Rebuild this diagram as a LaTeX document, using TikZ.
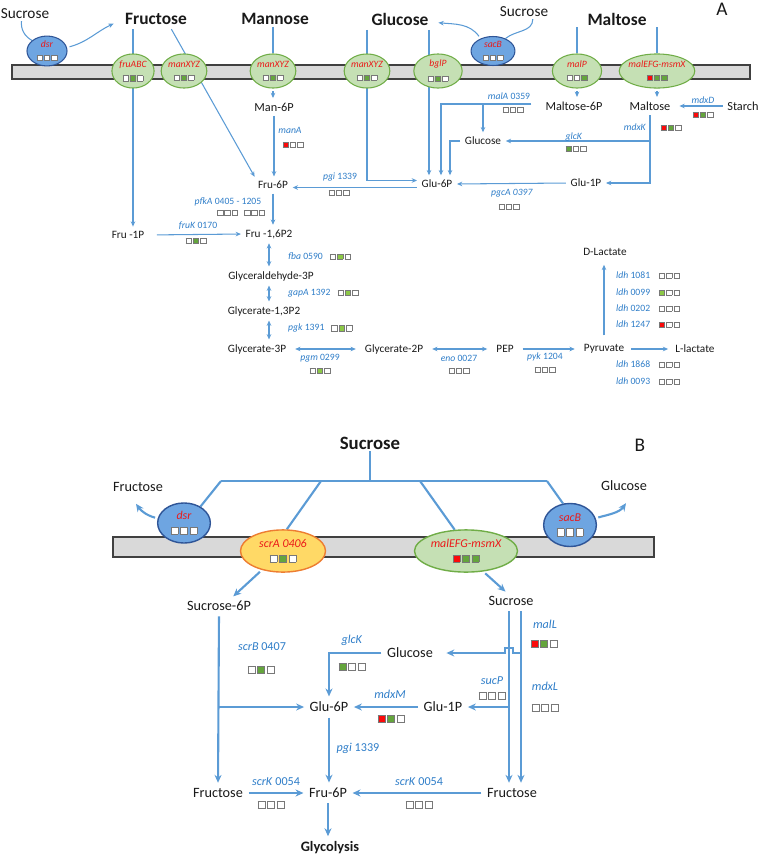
\documentclass[tikz,border=0pt]{standalone}
\usepackage{fontspec}
\setmainfont{Carlito}
\usetikzlibrary{arrows.meta,shapes.geometric,calc}
\pgfdeclarelayer{bg}
\pgfsetlayers{bg,main}
\definecolor{lineblue}{RGB}{91,155,213}
\definecolor{genblue}{RGB}{46,125,200}
\definecolor{enzred}{RGB}{235,25,25}
\definecolor{txt}{RGB}{25,25,25}
\definecolor{membfill}{RGB}{217,217,217}
\definecolor{membline}{RGB}{64,64,64}
\definecolor{trfill}{RGB}{197,224,180}
\definecolor{trline}{RGB}{112,173,71}
\definecolor{blfill}{RGB}{110,165,225}
\definecolor{blline}{RGB}{47,85,151}
\definecolor{yefill}{RGB}{255,217,102}
\definecolor{yeline}{RGB}{237,125,49}
\definecolor{gdk}{RGB}{100,165,60}
\definecolor{glt}{RGB}{140,200,70}
\definecolor{rd}{RGB}{250,10,10}
\definecolor{sqgray}{RGB}{120,120,120}
\setlength{\fboxsep}{0pt}
\setlength{\fboxrule}{0.35pt}
\newcommand{\sq}[2]{\fcolorbox{sqgray}{#2}{\rule{0pt}{#1}\hspace*{#1}}}
\newcommand{\tri}[3]{\sq{2.8pt}{#1}\hspace{0.7pt}\sq{2.8pt}{#2}\hspace{0.7pt}\sq{2.8pt}{#3}}
\newcommand{\triB}[3]{\sq{3.8pt}{#1}\hspace{0.9pt}\sq{3.8pt}{#2}\hspace{0.9pt}\sq{3.8pt}{#3}}
\newcommand{\inel}[2]{\makebox[0pt]{\shortstack{#1\\[1pt]#2}}}
\tikzset{
  wire/.style={draw=lineblue, line width=0.6pt},
  flow/.style={wire, shorten >=1.5pt, shorten <=1.5pt, -{Stealth[length=3pt,width=2.6pt]}},
  dflow/.style={wire, shorten >=1.5pt, shorten <=1.5pt, {Stealth[length=3pt,width=2.6pt]}-{Stealth[length=3pt,width=2.6pt]}},
  wireB/.style={draw=lineblue, line width=1.2pt},
  flowB/.style={wireB, shorten >=1.5pt, shorten <=1.5pt, -{Stealth[length=4.5pt,width=4pt]}},
  memb/.style={draw=membline, fill=membfill, line width=0.6pt},
  head/.style={font=\fontsize{9.9}{11}\selectfont\bfseries, text=txt, inner sep=1pt},
  headB/.style={font=\fontsize{10.7}{12}\selectfont\bfseries, text=txt, inner sep=1pt},
  tag/.style={font=\fontsize{11}{12}\selectfont, text=txt, inner sep=0pt},
  sugar/.style={font=\fontsize{8.7}{10}\selectfont, text=txt, inner sep=1pt},
  metu/.style={font=\fontsize{7}{8}\selectfont, text=txt, inner sep=1pt},
  met/.style={font=\fontsize{6.4}{7}\selectfont, text=txt, inner sep=1pt},
  metB/.style={font=\fontsize{8.1}{9}\selectfont, text=txt, inner sep=1.5pt},
  gene/.style={font=\fontsize{5.5}{6}\selectfont, text=genblue, inner sep=0.5pt},
  geneB/.style={font=\fontsize{6.9}{8}\selectfont, text=genblue, inner sep=0.5pt},
  trip/.style={inner sep=0pt},
  trA/.style={ellipse, draw=trline, fill=trfill, line width=0.6pt, inner sep=0pt,
    minimum width=26pt, minimum height=19.4pt, text=enzred,
    font=\fontsize{5.5}{6}\selectfont\itshape},
  blA/.style={trA, draw=blline, fill=blfill},
  trB/.style={trA, minimum height=24pt, line width=0.8pt, font=\fontsize{6.8}{8}\selectfont\itshape},
  blB/.style={trB, draw=blline, fill=blfill, minimum width=30pt, minimum height=22.8pt},
  yeB/.style={trB, draw=yeline, fill=yefill, minimum width=48.4pt}
}
\begin{document}
\begin{tikzpicture}[x=0.02cm, y=-0.02cm]
\useasboundingbox (0,0) rectangle (758,856);

% panel A
\node[sugar] (sucA) at (25,14) {Sucrose};
\node[head] (fru) at (156,19) {Fructose};
\node[head] (man) at (275,19) {Mannose};
\node[head] (glc) at (400,19) {Glucose};
\node[sugar] (sucS) at (524,12) {Sucrose};
\node[head] (mal) at (617,19) {Maltose};
\node[tag] (labA) at (722,9) {A};

\node[blA, minimum width=22.8pt, minimum height=17pt] (dsrA) at (47,51) {\inel{dsr}{\tri{white}{white}{white}}};
\node[trA, minimum width=24pt] (fruABC) at (133,71) {\inel{fruABC}{\tri{white}{gdk}{white}}};
\node[trA] (manXYZa) at (184,71) {\inel{manXYZ}{\tri{white}{gdk}{white}}};
\node[trA] (manXYZb) at (273,71) {\inel{manXYZ}{\tri{white}{gdk}{white}}};
\node[trA] (manXYZc) at (367,71) {\inel{manXYZ}{\tri{white}{gdk}{white}}};
\node[trA, minimum width=27.5pt] (bglP) at (438,71) {\inel{bglP}{\tri{white}{gdk}{white}}};
\node[blA, minimum width=25pt, minimum height=16.5pt] (sacA) at (493,51) {\inel{sacB}{\tri{white}{white}{white}}};
\node[trA, minimum width=28pt] (malP) at (577,71) {\inel{malP}{\tri{white}{white}{gdk}}};
\node[trA, minimum width=43pt] (malEFG) at (657,71) {\inel{malEFG-msmX}{\tri{rd}{gdk}{gdk}}};

\node[metu] (man6P) at (274,107) {Man-6P};
\node[metu] (mal6P) at (574,106) {Maltose-6P};
\node[metu] (maltA) at (650,106) {Maltose};
\node[metu] (starch) at (743,106) {Starch};
\node[met] (glcA) at (483,141) {Glucose};
\node[met] (glu6P) at (437,184) {Glu-6P};
\node[met] (glu1P) at (586,183) {Glu-1P};
\node[met] (fru6P) at (273,185) {Fru-6P};
\node[met] (fruIP) at (128,235) {Fru -1P};
\node[met] (fru16) at (269,234) {Fru -1,6P2};
\node[met] (gap) at (271,276) {Glyceraldehyde-3P};
\node[met] (bpg) at (264,311) {Glycerate-1,3P2};
\node[met] (pg3) at (257,349) {Glycerate-3P};
\node[met] (pg2) at (394,349) {Glycerate-2P};
\node[met] (pep) at (505,349) {PEP};
\node[met] (pyr) at (604,349) {Pyruvate};
\node[met] (llac) at (695,349) {L-lactate};
\node[met] (dlac) at (605,252) {D-Lactate};

\node[gene] (manA) at (290,130) {\textit{manA}};
\node[trip] (manAb) at (293,145) {\tri{rd}{white}{white}};
\node[gene] (malA) at (509,96) {\textit{malA} 0359};
\node[trip] (malAb) at (513,110) {\tri{white}{white}{white}};
\node[gene] (mdxD) at (703,100) {\textit{mdxD}};
\node[trip] (mdxDb) at (703,115) {\tri{rd}{gdk}{white}};
\node[gene] (mdxK) at (635,127) {\textit{mdxK}};
\node[trip] (mdxKb) at (671,128) {\tri{rd}{gdk}{white}};
\node[gene] (glcK) at (574,137) {\textit{glcK}};
\node[trip] (glcKb) at (576,149) {\tri{gdk}{white}{white}};
\node[gene] (pgi) at (340,177) {\textit{pgi} 1339};
\node[trip] (pgib) at (339,193) {\tri{white}{white}{white}};
\node[gene] (pgcA) at (512,193) {\textit{pgcA 0397}};
\node[trip] (pgcAb) at (509,207) {\tri{white}{white}{white}};
\node[gene] (pfkA) at (228,202) {\textit{pfkA} 0405 - 1205};
\node[trip] (pfkAb) at (241,213) {\tri{white}{white}{white}\hspace{3.4pt}\tri{white}{white}{white}};
\node[gene] (fruK) at (198,226) {\textit{fruK} 0170};
\node[trip] (fruKb) at (196,241) {\tri{white}{gdk}{white}};
\node[gene, anchor=west] (fba) at (287,256) {\textit{fba} 0590\hspace{4pt}\tri{white}{glt}{white}};
\node[gene, anchor=west] (gapA) at (287,293) {\textit{gapA} 1392\hspace{4pt}\tri{white}{glt}{white}};
\node[gene, anchor=west] (pgk) at (287,328) {\textit{pgk} 1391\hspace{4pt}\tri{white}{glt}{white}};
\node[gene] (pgm) at (320,358) {\textit{pgm} 0299};
\node[trip] (pgmb) at (320,371) {\tri{white}{glt}{white}};
\node[gene] (eno) at (459,358) {\textit{eno} 0027};
\node[trip] (enob) at (459,371) {\tri{white}{white}{white}};
\node[gene] (pyk) at (545,357) {\textit{pyk} 1204};
\node[trip] (pykb) at (545,370) {\tri{white}{white}{white}};
\node[gene, anchor=west] (ldha) at (615,275) {\textit{ldh} 1081\hspace{5pt}\tri{white}{white}{white}};
\node[gene, anchor=west] (ldhb) at (615,292) {\textit{ldh} 0099\hspace{5pt}\tri{glt}{white}{white}};
\node[gene, anchor=west] (ldhc) at (615,308) {\textit{ldh} 0202\hspace{5pt}\tri{white}{white}{white}};
\node[gene, anchor=west] (ldhd) at (615,324) {\textit{ldh} 1247\hspace{5pt}\tri{rd}{white}{white}};
\node[gene, anchor=west] (ldhe) at (615,364) {\textit{ldh} 1868\hspace{5pt}\tri{white}{white}{white}};
\node[gene, anchor=west] (ldhf) at (615,381) {\textit{ldh} 0093\hspace{5pt}\tri{white}{white}{white}};

% panel B
\node[headB] (sucr) at (370,443) {Sucrose};
\node[tag] (labB) at (640,445) {B};
\node[metB] (fruB) at (138,487) {Fructose};
\node[metB] (glcBt) at (624,486) {Glucose};
\node[blB] (dsrB) at (184,523) {\inel{dsr}{\triB{white}{white}{white}}};
\node[blB, minimum height=24.5pt] (sacBB) at (570,525) {\inel{sacB}{\triB{white}{white}{white}}};
\node[yeB] (scrA) at (283,551) {\inel{scrA 0406}{\triB{white}{gdk}{white}}};
\node[trB, minimum width=58.6pt] (malB) at (466,551) {\inel{malEFG-msmX}{\triB{rd}{gdk}{gdk}}};

\node[metB] (suc6P) at (219,606) {Sucrose-6P};
\node[metB] (sucM) at (511,601) {Sucrose};
\node[metB] (glcB) at (410,653) {Glucose};
\node[metB] (glu6PB) at (329,707) {Glu-6P};
\node[metB] (glu1PB) at (443,707) {Glu-1P};
\node[metB] (fruBL) at (218,793) {Fructose};
\node[metB] (fru6PB) at (328,793) {Fru-6P};
\node[metB] (fruBR) at (512,793) {Fructose};
\node[metB, font=\fontsize{8.2}{9}\selectfont\bfseries] (glyc) at (330,848) {Glycolysis};

\node[geneB] (scrB) at (262,647) {\textit{scrB} 0407};
\node[trip] (scrBb) at (261,670) {\triB{white}{gdk}{white}};
\node[geneB] (glcKB) at (352,640) {\textit{glcK}};
\node[trip] (glcKBb) at (352,667) {\triB{gdk}{white}{white}};
\node[geneB] (malL) at (545,624) {\textit{malL}};
\node[trip] (malLb) at (544,644) {\triB{rd}{gdk}{white}};
\node[geneB] (sucP) at (492,681) {\textit{sucP}};
\node[trip] (sucPb) at (492,696) {\triB{white}{white}{white}};
\node[geneB] (mdxL) at (545,686) {\textit{mdxL}};
\node[trip] (mdxLb) at (545,708) {\triB{white}{white}{white}};
\node[geneB] (mdxM) at (390,694) {\textit{mdxM}};
\node[trip] (mdxMb) at (391,719) {\triB{rd}{gdk}{white}};
\node[geneB] (pgiB) at (358,748) {\textit{pgi} 1339};
\node[geneB] (scrKa) at (276,782) {\textit{scrK} 0054};
\node[trip] (scrKab) at (271,805) {\triB{white}{white}{white}};
\node[geneB] (scrKb) at (419,782) {\textit{scrK} 0054};
\node[trip] (scrKbb) at (419,805) {\triB{white}{white}{white}};

\begin{pgfonlayer}{bg}
\draw[memb] (12,65) rectangle (750,79);
\draw[wire] ([xshift=-2pt]sucA.south) to[out=-95,in=150] (dsrA.145);
\draw[flow] (dsrA.10) to[out=15,in=205] ([xshift=-4pt,yshift=-2pt]fru.west);
\draw[wire] ([xshift=5pt]sucS.south) to[out=-90,in=40] (sacA.45);
\draw[flow] (sacA.135) to[out=125,in=-5] ([xshift=3pt,yshift=-2pt]glc.east);

\draw[flow] (fru.south -| fruABC) -- (fruABC |- fruIP.north);
\draw[flow] ([xshift=8pt]fru.south) -- (fru6P.north west);
\draw[wire] (man.south -| manXYZb) -- (manXYZb.north);
\draw[flow] (manXYZb.south) -- (manXYZb.south |- man6P.north);
\draw[flow] (man6P.south) -- (man6P.south |- fru6P.north);
\draw[flow] (glc.south -| manXYZc) |- ([yshift=2pt]glu6P.west);
\coordinate (ga) at ($(glu6P.north)+(-8,0)$);
\coordinate (gb) at ($(glu6P.north)+(4,0)$);
\coordinate (gc) at ($(glu6P.north)+(13,0)$);
\coordinate (mA) at ($(mal6P.west)+(-12,-2)$);
\draw[flow] (glc.south -| ga) -- (ga);
\draw[flow, shorten <=0pt] (mA) -| (gb);
\draw[flow, shorten <=0pt] (mA -| glcA.north) -- (glcA.north);
\draw[flow] (glcA.west) -| (gc);
\draw[wire] (mal.south -| malP) -- (malP.north);
\draw[wire] (mal.south -| malEFG) -- (malEFG.north);
\draw[flow] (malP.south) -- (malP.south |- mal6P.north);
\draw[flow] (malEFG.south) -- (malEFG.south |- maltA.north);
\draw[flow, shorten >=4pt] (starch.west) -- (maltA.east);
\draw[flow] (maltA.south) |- (glu1P.east);
\draw[flow, shorten <=0pt] (maltA.south |- glcA) -- (glcA.east);
\draw[flow] (glu1P.west) -- (glu6P.east);
\draw[flow] ([yshift=-2pt]glu6P.west) -- ([yshift=-2pt]glu6P.west -| fru6P.east);
\draw[flow] (fru6P.south) -- (fru6P.south |- fru16.north);
\draw[flow, shorten <=6pt] (fruIP.east) -- (fru16.west);
\draw[dflow] (fru16.south) -- (fru16.south |- gap.north);
\draw[dflow] (gap.south -| fru16) -- (bpg.north -| fru16);
\draw[dflow] (bpg.south -| fru16) -- (pg3.north -| fru16);
\draw[dflow, shorten <=4pt, shorten >=4pt] (pg3.east) -- (pg2.west);
\draw[dflow, shorten <=4pt, shorten >=4pt] (pg2.east) -- (pep.west);
\draw[flow, shorten <=4pt, shorten >=4pt] (pep.east) -- (pyr.west);
\draw[flow, shorten <=3pt, shorten >=3pt] (pyr.east) -- (llac.west);
\draw[flow, shorten <=4pt, shorten >=4pt] (pyr.north) -- (pyr.north |- dlac.south);

\draw[memb] (113,537) rectangle (654,557);
\coordinate (h1) at (221,481);
\coordinate (h2) at (321,481);
\coordinate (h3) at (420,481);
\coordinate (h4) at (547,481);
\draw[wireB] (sucr.south) -- (sucr.south |- h1);
\draw[wireB] (h1) -- (h4);
\draw[wireB] (h1) -- (dsrB.45);
\draw[wireB] (h2) -- (scrA.80);
\draw[wireB] (h3) -- (malB.118);
\draw[wireB] (h4) -- (sacBB.108);
\draw[flowB] (dsrB.170) to[out=165,in=-55] ([xshift=-2pt,yshift=-4pt]fruB.south);
\draw[flowB] (sacBB.15) to[out=15,in=-125] ([xshift=2pt,yshift=-4pt]glcBt.south);
\draw[flowB] (scrA.222) -- ([xshift=7pt]suc6P.north);
\draw[flowB] (malB.-50) -- ([xshift=-2pt]sucM.north);
\draw[flowB] (suc6P.south) -- (fruBL.north);
\draw[flowB, shorten <=0pt] (suc6P.south |- glu6PB.west) -- (glu6PB.west);
\coordinate (v1) at ($(fruBR.north)+(-3,0)$);
\coordinate (v2) at ($(fruBR.north)+(9,0)$);
\draw[flowB] (sucM.south -| v1) -- (v1);
\draw[flowB] (sucM.south -| v2) -- (v2);
\draw[flowB, shorten <=0pt, shorten >=6pt] (v2 |- glcB) -- ($(v1 |- glcB)+(4,0)$) -- ++(0,-5) -- ++(-8,0) -- ++(0,5) -- (glcB.east);
\draw[flowB] (glcB.west) -| (glu6PB.north);
\draw[flowB, shorten <=0pt] (v1 |- glu1PB) -- (glu1PB.east);
\draw[flowB] (glu1PB.west) -- (glu6PB.east);
\draw[flowB] (glu6PB.south) -- (glu6PB.south |- fru6PB.north);
\draw[flowB] (fruBL.east) -- (fru6PB.west);
\draw[flowB] (fruBR.west) -- (fru6PB.east);
\draw[flowB] (fru6PB.south) -- (fru6PB.south |- glyc.north);
\end{pgfonlayer}
\end{tikzpicture}
\end{document}
